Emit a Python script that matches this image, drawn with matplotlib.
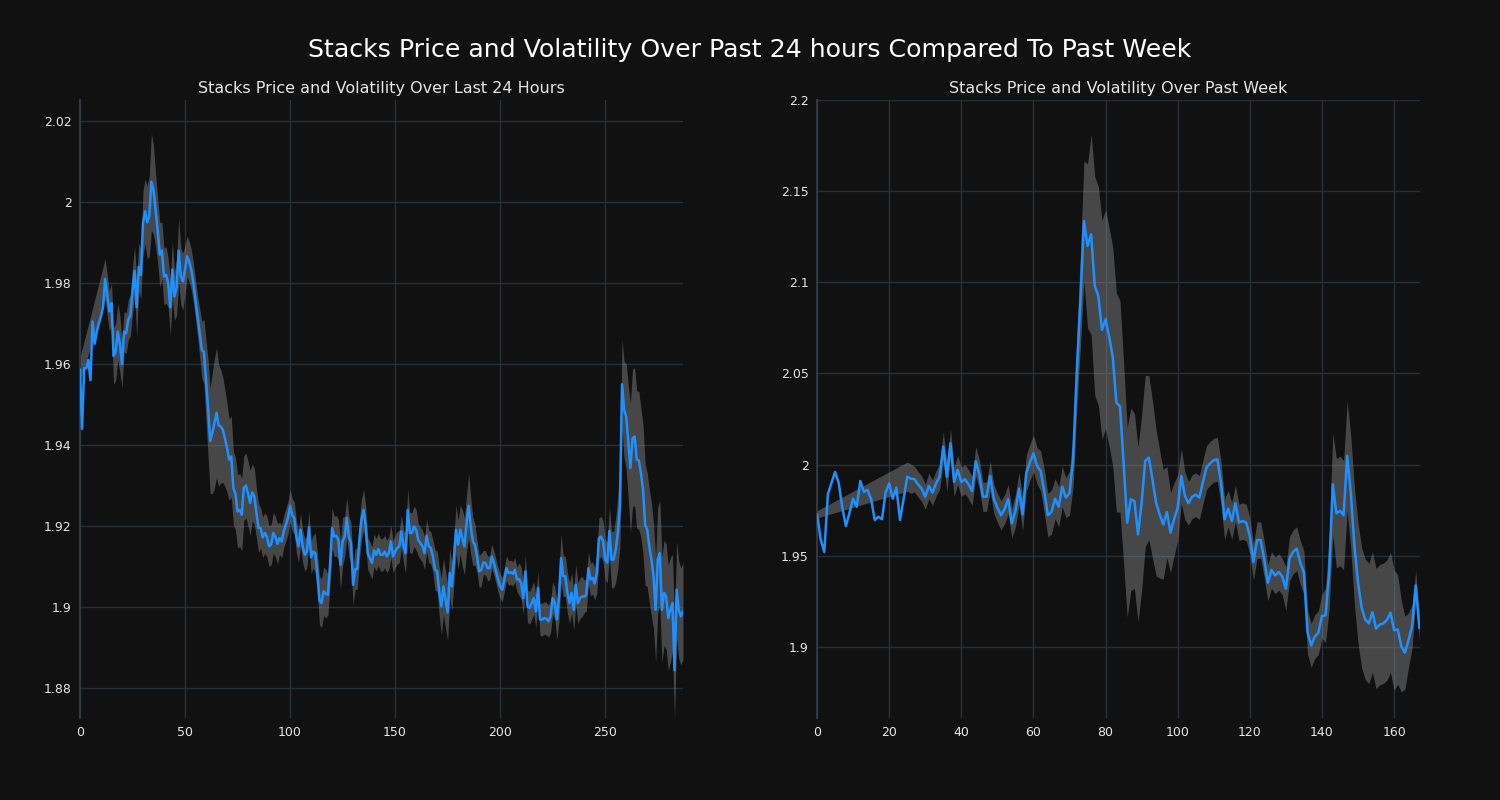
import matplotlib
matplotlib.use("Agg")
import matplotlib.pyplot as plt
from matplotlib.ticker import FuncFormatter, MultipleLocator
import numpy as np

# last 24 hours (5 minute steps)
day_price = [
    1.9586, 1.9440, 1.9590, 1.9590, 1.9610, 1.9560, 1.9705, 1.9650, 1.9680, 1.9700,
    1.9718, 1.9740, 1.9810, 1.9770, 1.9730, 1.9750, 1.9620, 1.9630, 1.9680, 1.9650,
    1.9600, 1.9680, 1.9676, 1.9710, 1.9720, 1.9780, 1.9830, 1.9740, 1.9840, 1.9820,
    1.9948, 1.9977, 1.9950, 1.9965, 2.0050, 2.0030, 1.9980, 1.9930, 1.9870, 1.9880,
    1.9816, 1.9820, 1.9800, 1.9740, 1.9833, 1.9767, 1.9790, 1.9880, 1.9816, 1.9804,
    1.9833, 1.9866, 1.9853, 1.9833, 1.9800, 1.9759, 1.9718, 1.9677, 1.9635, 1.9630,
    1.9560, 1.9490, 1.9410, 1.9430, 1.9454, 1.9480, 1.9448, 1.9446, 1.9438, 1.9417,
    1.9393, 1.9364, 1.9372, 1.9294, 1.9280, 1.9236, 1.9240, 1.9228, 1.9294, 1.9300,
    1.9280, 1.9257, 1.9283, 1.9273, 1.9232, 1.9195, 1.9195, 1.9172, 1.9183, 1.9174,
    1.9150, 1.9154, 1.9183, 1.9174, 1.9156, 1.9170, 1.9162, 1.9187, 1.9203, 1.9220,
    1.9250, 1.9228, 1.9220, 1.9174, 1.9150, 1.9191, 1.9150, 1.9129, 1.9137, 1.9197,
    1.9123, 1.9137, 1.9133, 1.9084, 1.9016, 1.9010, 1.9039, 1.9033, 1.9030, 1.9100,
    1.9195, 1.9174, 1.9176, 1.9166, 1.9104, 1.9162, 1.9174, 1.9220, 1.9174, 1.9158,
    1.9055, 1.9094, 1.9094, 1.9166, 1.9216, 1.9240, 1.9199, 1.9132, 1.9121, 1.9109,
    1.9140, 1.9129, 1.9143, 1.9129, 1.9129, 1.9137, 1.9125, 1.9133, 1.9162, 1.9125,
    1.9137, 1.9146, 1.9150, 1.9187, 1.9150, 1.9133, 1.9240, 1.9183, 1.9183, 1.9199,
    1.9191, 1.9166, 1.9158, 1.9150, 1.9133, 1.9176, 1.9150, 1.9146, 1.9125, 1.9092,
    1.9088, 1.9039, 1.9002, 1.9051, 1.9018, 1.8987, 1.9084, 1.9051, 1.9117, 1.9191,
    1.9154, 1.9191, 1.9170, 1.9150, 1.9207, 1.9250, 1.9199, 1.9162, 1.9154, 1.9125,
    1.9088, 1.9092, 1.9110, 1.9109, 1.9096, 1.9096, 1.9125, 1.9109, 1.9088, 1.9068,
    1.9051, 1.9043, 1.9068, 1.9096, 1.9084, 1.9086, 1.9082, 1.9092, 1.9068, 1.9069,
    1.9059, 1.9022, 1.9088, 1.9002, 1.8998, 1.9010, 1.9022, 1.8989, 1.9047, 1.8969,
    1.8969, 1.8973, 1.8971, 1.8965, 1.8977, 1.9022, 1.9010, 1.8969, 1.9026, 1.9121,
    1.9076, 1.9076, 1.9035, 1.9010, 1.9035, 1.8993, 1.9055, 1.9010, 1.9022, 1.9026,
    1.9026, 1.9030, 1.9096, 1.9068, 1.9072, 1.9058, 1.9084, 1.9170, 1.9174, 1.9162,
    1.9117, 1.9110, 1.9188, 1.9117, 1.9117, 1.9142, 1.9183, 1.9249, 1.9550, 1.9487,
    1.9470, 1.9405, 1.9343, 1.9417, 1.9421, 1.9364, 1.9362, 1.9331, 1.9290, 1.9203,
    1.9191, 1.9150, 1.9117, 1.9076, 1.8993, 1.9117, 1.9133, 1.8993, 1.9035, 1.9026,
    1.8973, 1.8993, 1.9010, 1.8844, 1.9043, 1.8993, 1.8977, 1.8990,
]
day_vol = [
    0.003, 0.003, 0.003, 0.003, 0.003, 0.003, 0.003, 0.003, 0.003, 0.003,
    0.004, 0.004, 0.005, 0.005, 0.005, 0.005, 0.007, 0.007, 0.007, 0.007,
    0.006, 0.005, 0.005, 0.005, 0.005, 0.006, 0.006, 0.007, 0.006, 0.006,
    0.008, 0.008, 0.009, 0.010, 0.012, 0.011, 0.009, 0.008, 0.008, 0.007,
    0.007, 0.007, 0.006, 0.007, 0.007, 0.006, 0.007, 0.008, 0.007, 0.007,
    0.006, 0.005, 0.005, 0.005, 0.005, 0.005, 0.005, 0.006, 0.007, 0.008,
    0.010, 0.012, 0.013, 0.015, 0.016, 0.016, 0.015, 0.014, 0.013, 0.012,
    0.011, 0.010, 0.010, 0.009, 0.009, 0.009, 0.009, 0.009, 0.008, 0.008,
    0.008, 0.008, 0.007, 0.007, 0.006, 0.006, 0.005, 0.005, 0.005, 0.005,
    0.005, 0.005, 0.005, 0.005, 0.005, 0.004, 0.004, 0.004, 0.004, 0.004,
    0.004, 0.004, 0.004, 0.004, 0.004, 0.004, 0.004, 0.004, 0.004, 0.004,
    0.004, 0.004, 0.005, 0.005, 0.006, 0.006, 0.006, 0.006, 0.005, 0.005,
    0.005, 0.005, 0.005, 0.005, 0.006, 0.006, 0.005, 0.005, 0.005, 0.005,
    0.005, 0.005, 0.005, 0.005, 0.005, 0.005, 0.005, 0.004, 0.004, 0.004,
    0.004, 0.004, 0.004, 0.004, 0.004, 0.004, 0.004, 0.004, 0.004, 0.004,
    0.004, 0.004, 0.004, 0.004, 0.004, 0.005, 0.005, 0.005, 0.005, 0.005,
    0.005, 0.004, 0.004, 0.004, 0.004, 0.004, 0.004, 0.004, 0.004, 0.005,
    0.005, 0.006, 0.007, 0.007, 0.007, 0.007, 0.006, 0.006, 0.006, 0.006,
    0.006, 0.006, 0.007, 0.007, 0.007, 0.008, 0.007, 0.006, 0.005, 0.004,
    0.004, 0.004, 0.003, 0.003, 0.003, 0.003, 0.003, 0.003, 0.003, 0.003,
    0.003, 0.003, 0.003, 0.003, 0.003, 0.003, 0.003, 0.003, 0.003, 0.004,
    0.004, 0.004, 0.004, 0.004, 0.004, 0.004, 0.004, 0.004, 0.004, 0.004,
    0.004, 0.004, 0.004, 0.004, 0.004, 0.004, 0.004, 0.005, 0.006, 0.006,
    0.005, 0.005, 0.005, 0.005, 0.005, 0.005, 0.005, 0.005, 0.005, 0.005,
    0.004, 0.004, 0.004, 0.004, 0.004, 0.004, 0.005, 0.005, 0.005, 0.005,
    0.005, 0.005, 0.006, 0.007, 0.007, 0.008, 0.009, 0.010, 0.011, 0.012,
    0.013, 0.014, 0.016, 0.017, 0.017, 0.017, 0.017, 0.016, 0.016, 0.015,
    0.014, 0.014, 0.014, 0.013, 0.013, 0.013, 0.013, 0.013, 0.013, 0.013,
    0.013, 0.013, 0.012, 0.012, 0.012, 0.012, 0.012, 0.012,
]
day_band_idx = [0] + list(range(12, 288))

# past week (hourly)
week_price = [
    1.9727, 1.9590, 1.9520, 1.9837, 1.9900, 1.9960, 1.9900, 1.9764, 1.9663, 1.9736,
    1.9813, 1.9769, 1.9910, 1.9850, 1.9861, 1.9810, 1.9696, 1.9714, 1.9700, 1.9846,
    1.9897, 1.9813, 1.9874, 1.9696, 1.9810, 1.9934, 1.9923, 1.9920, 1.9892, 1.9868,
    1.9824, 1.9883, 1.9846, 1.9897, 1.9934, 2.0099, 1.9934, 2.0117, 1.9905, 1.9971,
    1.9905, 1.9920, 1.9892, 1.9855, 2.0018, 1.9947, 1.9824, 1.9824, 1.9938, 1.9813,
    1.9764, 1.9722, 1.9755, 1.9810, 1.9678, 1.9746, 1.9868, 1.9727, 1.9952, 2.0011,
    2.0062, 1.9993, 1.9965, 1.9855, 1.9722, 1.9740, 1.9813, 1.9769, 1.9879, 1.9819,
    1.9843, 2.0029, 2.0500, 2.0890, 2.1336, 2.1200, 2.1263, 2.0980, 2.0925, 2.0739,
    2.0797, 2.0700, 2.0590, 2.0340, 2.0320, 2.0010, 1.9682, 1.9810, 1.9800, 1.9617,
    1.9791, 2.0020, 2.0038, 1.9919, 1.9791, 1.9727, 1.9672, 1.9740, 1.9627, 1.9700,
    1.9764, 1.9938, 1.9828, 1.9788, 1.9824, 1.9835, 1.9819, 1.9905, 1.9984, 2.0007,
    2.0024, 2.0029, 1.9901, 1.9700, 1.9758, 1.9691, 1.9788, 1.9682, 1.9691, 1.9682,
    1.9608, 1.9466, 1.9586, 1.9586, 1.9480, 1.9352, 1.9422, 1.9392, 1.9411, 1.9385,
    1.9319, 1.9484, 1.9521, 1.9539, 1.9462, 1.9407, 1.9081, 1.9008, 1.9056, 1.9078,
    1.9169, 1.9173, 1.9407, 1.9892, 1.9733, 1.9746, 1.9722, 2.0048, 1.9846, 1.9553,
    1.9352, 1.9215, 1.9151, 1.9129, 1.9191, 1.9100, 1.9122, 1.9129, 1.9147, 1.9188,
    1.9092, 1.9096, 1.9004, 1.8968, 1.9037, 1.9114, 1.9337, 1.9105,
]
week_vol = [
    0.002, 0.003, 0.003, 0.003, 0.003, 0.003, 0.003, 0.003, 0.003, 0.003,
    0.003, 0.003, 0.003, 0.003, 0.003, 0.003, 0.003, 0.003, 0.003, 0.003,
    0.003, 0.003, 0.003, 0.003, 0.003, 0.008, 0.008, 0.007, 0.007, 0.007,
    0.007, 0.007, 0.007, 0.007, 0.007, 0.008, 0.008, 0.008, 0.008, 0.008,
    0.008, 0.008, 0.008, 0.008, 0.008, 0.008, 0.008, 0.008, 0.008, 0.008,
    0.008, 0.008, 0.008, 0.008, 0.008, 0.009, 0.009, 0.009, 0.010, 0.010,
    0.010, 0.010, 0.011, 0.012, 0.012, 0.012, 0.011, 0.011, 0.011, 0.011,
    0.012, 0.015, 0.020, 0.025, 0.033, 0.045, 0.055, 0.060, 0.060, 0.060,
    0.060, 0.060, 0.060, 0.060, 0.058, 0.055, 0.052, 0.050, 0.048, 0.048,
    0.048, 0.047, 0.045, 0.043, 0.040, 0.035, 0.030, 0.025, 0.022, 0.020,
    0.018, 0.015, 0.013, 0.012, 0.012, 0.012, 0.012, 0.012, 0.012, 0.012,
    0.012, 0.012, 0.012, 0.011, 0.010, 0.010, 0.010, 0.010, 0.010, 0.010,
    0.010, 0.010, 0.010, 0.010, 0.010, 0.010, 0.010, 0.010, 0.010, 0.010,
    0.012, 0.012, 0.012, 0.012, 0.012, 0.012, 0.012, 0.012, 0.012, 0.012,
    0.012, 0.015, 0.020, 0.028, 0.030, 0.030, 0.030, 0.030, 0.031, 0.032,
    0.033, 0.033, 0.033, 0.033, 0.033, 0.033, 0.033, 0.033, 0.033, 0.033,
    0.033, 0.030, 0.025, 0.020, 0.015, 0.012, 0.008, 0.007,
]
week_band_idx = [0] + list(range(25, 168))

bg = "#111111"
grid_c = "#26303b"
txt_c = "#e6e6e6"

plt.rcParams["font.family"] = ["DejaVu Sans"]
fig = plt.figure(figsize=(15, 8), dpi=100, facecolor=bg)
ax1 = fig.add_axes([0.0533, 0.1025, 0.402, 0.7725])
ax2 = fig.add_axes([0.5447, 0.1025, 0.402, 0.7725])


def draw(ax, price, vol, band_idx, title, xlim, ylim, ystep):
    price = np.array(price)
    vol = np.array(vol)
    x = np.arange(len(price))
    bi = np.array(band_idx)
    ax.set_facecolor(bg)
    ax.fill_between(x[bi], price[bi] - vol[bi], price[bi] + vol[bi],
                    color="#8a8a8a", alpha=0.45, linewidth=0, zorder=2)
    ax.plot(x, price, color="#1e90ff", linewidth=1.8, zorder=3)
    ax.set_xlim(*xlim)
    ax.set_ylim(*ylim)
    ax.yaxis.set_major_locator(MultipleLocator(ystep))
    ax.yaxis.set_major_formatter(FuncFormatter(lambda v, p: "%g" % round(v, 4)))
    ax.grid(True, color=grid_c, linewidth=1, zorder=0)
    ax.set_axisbelow(True)
    for s in ["top", "right", "bottom"]:
        ax.spines[s].set_visible(False)
    ax.spines["left"].set_color("#2c3a48")
    ax.spines["left"].set_linewidth(1.5)
    ax.tick_params(colors=txt_c, labelsize=9, length=0, pad=6)
    ax.set_title(title, color=txt_c, fontsize=11.5, pad=5)


draw(ax1, day_price, day_vol, day_band_idx,
     "Stacks Price and Volatility Over Last 24 Hours",
     (0, 287), (1.8726, 2.0252), 0.02)
ax1.xaxis.set_major_locator(MultipleLocator(50))
draw(ax2, week_price, week_vol, week_band_idx,
     "Stacks Price and Volatility Over Past Week",
     (0, 167.2), (1.861, 2.2), 0.05)
ax2.xaxis.set_major_locator(MultipleLocator(20))

fig.suptitle("Stacks Price and Volatility Over Past 24 hours Compared To Past Week",
             color="#ffffff", fontsize=18.2, y=0.952)

fig.savefig("out.png", dpi=100, facecolor=bg)
